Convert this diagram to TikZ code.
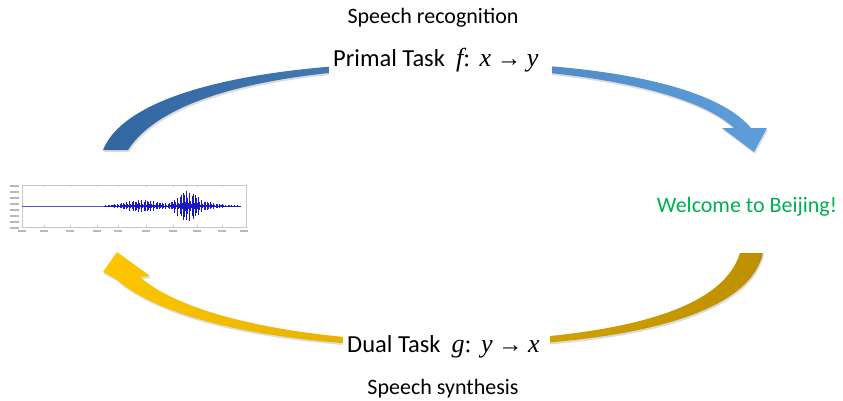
\documentclass[tikz,border=0pt]{standalone}
\usepackage{fontspec}
\setmainfont{Carlito}
\newfontfamily\mathish{Liberation Serif}
\usetikzlibrary{shadows}

\definecolor{bluedark}{RGB}{50,102,160}
\definecolor{bluelight}{RGB}{94,158,218}
\definecolor{goldbright}{RGB}{253,198,0}
\definecolor{golddark}{RGB}{188,144,0}
\definecolor{greettxt}{RGB}{0,176,80}
\definecolor{waveblue}{RGB}{25,25,200}

% a mapping such as  f: x -> y  set in a serif italic
\newcommand{\mapping}[3]{{\mathish\fontsize{26}{30}\selectfont\itshape #1}{\mathish:}\ \,{\mathish\fontsize{26}{30}\selectfont\itshape #2}\ {\mathish→}\ {\mathish\fontsize{26}{30}\selectfont\itshape #3}}

\tikzset{
  band/.style={drop shadow={opacity=0.28, shadow xshift=1pt, shadow yshift=-2pt}},
  caption/.style={font=\fontsize{22}{26}\selectfont, inner sep=0pt},
  task/.style={font=\fontsize{24.5}{28}\selectfont, fill=white, inner xsep=4pt, inner ysep=3pt},
  tickmark/.style={gray!55, line width=1.1pt},
}

\begin{document}
\begin{tikzpicture}[x=1pt,y=-1pt]
\useasboundingbox (0,0) rectangle (843,400);

% primal direction: blue curved arrow, recognition
\shade[band, left color=bluedark, right color=bluelight]
  (103,150) .. controls (125,95) and (250,63) .. (440,62)
            .. controls (600,62) and (715,85) .. (751,128)
  -- (767,128) -- (754,152) -- (722,128) -- (734,128)
            .. controls (700,96) and (600,69) .. (440,67)
            .. controls (265,69) and (160,100) .. (128,150) -- cycle;

% dual direction: golden curved arrow, synthesis
\shade[band, left color=goldbright, right color=golddark]
  (763,253) .. controls (748,318) and (620,346) .. (440,347)
            .. controls (285,346) and (165,322) .. (116,279)
  -- (103,272) -- (117,252) -- (150,276) -- (140,277)
            .. controls (182,314) and (292,340) .. (440,342)
            .. controls (615,339) and (722,312) .. (740,253) -- cycle;

% labels
\node[caption, anchor=base] (rec) at (433,23) {Speech recognition};
\node[task, anchor=base west] (primal) at (329,66) {Primal Task\ \ \mapping{f}{x}{y}\hspace*{10pt}};
\node[task, anchor=base west] (dual) at (343,352) {Dual Task\ \ \mapping{g}{y}{x}\hspace*{6pt}};
\node[caption, anchor=base] (syn) at (443,394) {Speech synthesis};
\node[caption, anchor=base, text=greettxt] (greet) at (747,212) {Welcome to Beijing!};

% speech waveform plot
\begin{scope}
  \draw[gray!45, line width=0.5pt] (22,185) rectangle (246,227);
  \foreach \yy in {186,192,198,204,210,216,222,228}
    \draw[tickmark] (10,\yy) -- (19,\yy);
  \foreach \xx in {22,44,70,97,118,146,173,197,222,244}
    \draw[tickmark] (\xx-4,231) -- (\xx+4,231);
  \foreach \xx in {44,70,97,118,146,173,197,222}{
    \draw[gray!45, line width=0.4pt] (\xx,185) -- (\xx,187);
    \draw[gray!45, line width=0.4pt] (\xx,227) -- (\xx,225);
  }
  \draw[waveblue!75, line width=0.5pt] (22,206) -- (238,206);
  \foreach \i in {0,...,170}{
    \pgfmathsetmacro\xx{104+\i*0.8}
    \pgfmathsetmacro\da{min((\xx-142)*(\xx-142)/480,9)}
    \pgfmathsetmacro\db{min((\xx-187)*(\xx-187)/150,9)}
    \pgfmathsetmacro\dc{min((\xx-208)*(\xx-208)/220,9)}
    \pgfmathsetmacro\aa{0.6+6*exp(-\da)+16*exp(-\db)+3*exp(-\dc)}
    \pgfmathsetmacro\pk{abs(sin(\i*48))^3}
    \pgfmathsetmacro\up{\aa*(0.15+0.85*\pk)*(0.8+0.2*abs(sin(\i*37)))}
    \pgfmathsetmacro\dn{\aa*(0.15+0.85*\pk)*(0.8+0.2*abs(cos(\i*29)))}
    \draw[waveblue, line width=0.45pt] (\xx,206-\up) -- (\xx,206+\dn);
  }
\end{scope}
\end{tikzpicture}
\end{document}
